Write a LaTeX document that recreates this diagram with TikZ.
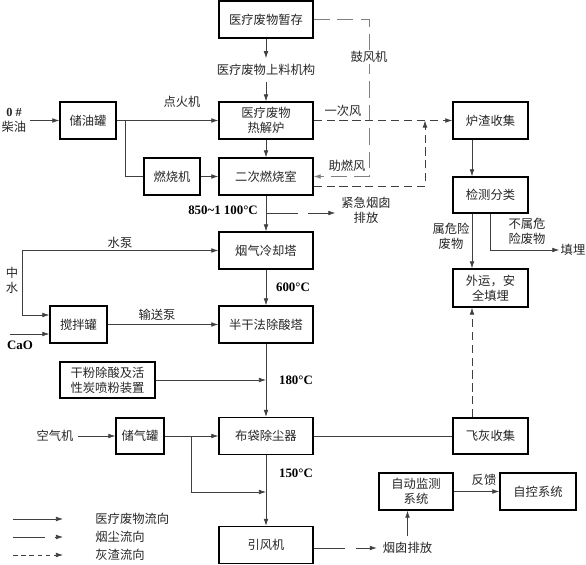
\documentclass[tikz,border=0pt]{standalone}
\usepackage{fontspec}
\setmainfont{Noto Sans CJK SC}
\newfontfamily\tnr{Liberation Serif}
\usepackage{tikz}
\usetikzlibrary{positioning,arrows.meta}

\begin{document}
\begin{tikzpicture}[x=0.03cm,y=-0.03cm,>={Latex[length=6pt,width=4pt]},font=\fontsize{10.5pt}{12.8pt}\selectfont,
box/.style={draw,line width=1.1pt,align=center,minimum width=2.82cm,minimum height=1.11cm,inner sep=1pt,text=black!85},
lab/.style={align=center,inner sep=1pt,text=black!85},
tmp/.style={font=\tnr\bfseries\fontsize{11pt}{13pt}\selectfont,inner sep=1pt},
ln/.style={line width=0.6pt,draw=black!75},
ash/.style={ln,dash pattern=on 7pt off 4pt},
smoke/.style={ln,dash pattern=on 27pt off 9pt},
fan/.style={line width=0.6pt,draw=black!50,dash pattern=on 14pt off 6pt}]
\useasboundingbox (0,0) rectangle (586,565);
\node[box] (zc) at (266,19.5) {医疗废物暂存};
\node[lab,inner sep=5pt] (sl) at (266,70) {医疗废物上料机构};
\node[box] (rj) at (266,120.5) {医疗废物\\热解炉};
\node[box] (ec) at (266,176.5) {二次燃烧室};
\node[box] (lq) at (266,250.5) {烟气冷却塔};
\node[box] (cs) at (266,324.5) {半干法除酸塔};
\node[box] (bd) at (266,436) {布袋除尘器};
\node[box] (yf) at (266,545) {引风机};
\node[box,minimum width=1.68cm] (cy) at (88,120.5) {储油罐};
\node[box,minimum width=1.68cm] (rs) at (172,176.5) {燃烧机};
\node[box,minimum width=1.71cm] (jb) at (78.5,324.5) {搅拌罐};
\node[box,minimum width=2.85cm,minimum height=1.08cm] (gf) at (107.5,380) {干粉除酸及活\\性炭喷粉装置};
\node[box,minimum width=1.44cm,minimum height=1.08cm] (cq) at (140,436) {储气罐};
\node[box,minimum width=2.25cm] (lz) at (490.5,120.5) {炉渣收集};
\node[box,minimum width=2.25cm,minimum height=1.08cm] (jc) at (490.5,195) {检测分类};
\node[box,minimum width=2.25cm,minimum height=1.14cm] (wy) at (490.5,288) {外运，安\\全填埋};
\node[box,minimum width=2.25cm,minimum height=1.08cm] (fh) at (490.5,436) {飞灰收集};
\node[box,minimum width=2.22cm] (zd) at (416,491.5) {自动监测\\系统};
\node[box,minimum width=2.28cm] (zk) at (538,491.5) {自控系统};
\node[lab,inner sep=3pt] (cyo) at (14,120.5) {{\tnr\bfseries 0 \#}\\柴油};
\node[lab] (dh) at (182,102) {点火机};
\node[lab] (ycf) at (343,111) {一次风};
\node[lab] (zrf) at (347,166) {助燃风};
\node[tmp] (t1) at (223,210) {850\textasciitilde1 100°C};
\node[lab,inner sep=5pt] (jj) at (366,210) {紧急烟囱\\排放};
\node[lab] (sb) at (120,243) {水泵};
\node[lab] (zs) at (12,280) {中\\水};
\node[tmp] (cao) at (20,345) {CaO};
\node[lab] (ss) at (157,315) {输送泵};
\node[tmp] (t2) at (293,287) {600°C};
\node[tmp] (t3) at (296,380) {180°C};
\node[tmp] (t4) at (296,473) {150°C};
\node[lab,inner sep=4pt] (kq) at (55,436) {空气机};
\node[lab] (wx) at (451,236) {属危险\\废物};
\node[lab] (bw) at (527,231) {不属危\\险废物};
\node[lab] (tm) at (573,250) {填埋};
\node[lab] (fk) at (484,480) {反馈};
\node[lab,inner sep=5pt] (pf) at (407.5,548) {烟囱排放};
\node[lab,anchor=west] (lg1) at (94,519) {医疗废物流向};
\node[lab,anchor=west] (lg2) at (94,537) {烟尘流向};
\node[lab,anchor=west] (lg3) at (94,555) {灰渣流向};
\coordinate (k1) at (125,120.5); \coordinate (k2) at (22,283); \coordinate (k3) at (0,315); \coordinate (k4) at (10,334);
\coordinate (k5) at (191,436); \coordinate (k6) at (266,492); \coordinate (k7) at (266,213); \coordinate (k8) at (425,186);
\coordinate (k9) at (369,19.5); \coordinate (vx) at (472,0); \coordinate (e) at (63,0);
\coordinate (a1) at (13,519); \coordinate (a2) at (13,537); \coordinate (a3) at (13,555);
\draw[ln,->] (zc)--(sl); \draw[ln,->] (sl)--(rj); \draw[ln,->] (rj)--(ec); \draw[ln,->] (ec)--(lq);
\draw[ln,->] (lq)--(cs); \draw[ln,->] (cs)--(bd); \draw[ln,->] (bd)--(yf);
\draw[ln,->] (cyo)--(cy); \draw[ln,->] (cy)--(rj); \draw[ln] (k1) |- (rs.west); \draw[ln,->] (rs)--(ec);
\draw[ln,->] (k2) |- (lq.west); \draw[ln,->] (k2) |- (k3 -| jb.west); \draw[ln,->] (k4) -- (k4 -| jb.west);
\draw[ln,->] (jb)--(cs); \draw[ln,->] (gf.east) -- (gf.east -| cs.south);
\draw[ln,->] (kq)--(cq); \draw[ln,->] (cq)--(bd); \draw[ln,->] (k5) |- (k6); \draw[ln] (bd)--(fh);
\draw[ln,->] (vx |- lz.south)--(vx |- jc.north); \draw[ln,->] (vx |- jc.south)--(vx |- wy.north);
\draw[ash,->] (vx |- fh.north)--(vx |- wy.south); \draw[ln,->] (jc.south) |- (tm.west);
\draw[ln,->] (zd)--(zk); \draw[smoke,->] (yf.east |- pf) -- (pf); \draw[smoke,->] (pf) -- (pf |- zd.south);
\draw[smoke,->] (k7) -- (k7 -| jj.west);
\draw[fan,->] (zc.east) -| (k9 |- ec.east) -- (ec.east);
\draw[ash,->] (rj)--(lz); \draw[ash,->] (ec.east |- k8) -| (k8 |- rj.east);
\node[lab,fill=white] (gfj) at (369,57) {鼓风机};
\draw[ln,->] (a1) -- (a1 -| e); \draw[smoke,->] (a2) -- (a2 -| e); \draw[ash,dash pattern=on 4pt off 3pt,->] (a3) -- (a3 -| e);
\end{tikzpicture}
\end{document}
